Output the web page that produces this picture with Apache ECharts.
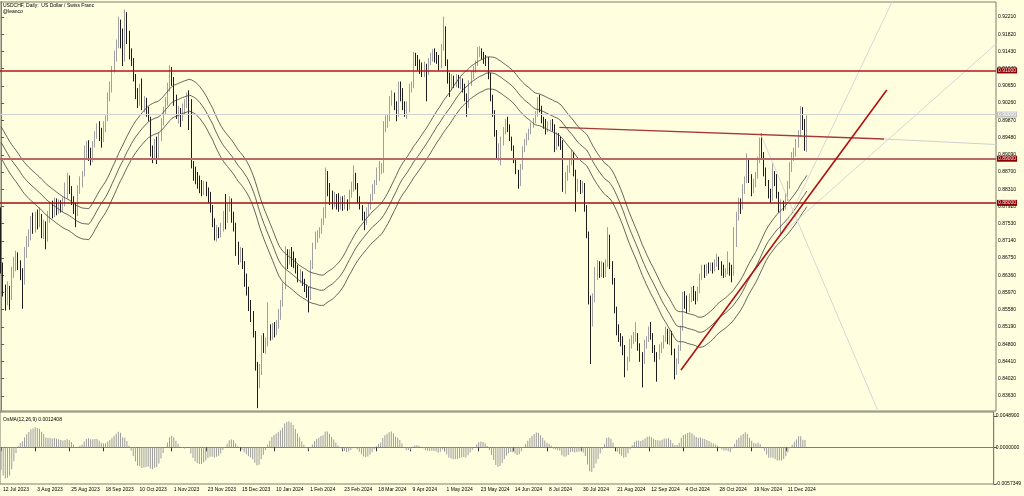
<!DOCTYPE html>
<html><head><meta charset="utf-8">
<script src="https://cdn.jsdelivr.net/npm/echarts@6/dist/echarts.min.js"></script>
<style>html,body{margin:0;padding:0;background:#FFFFE0;}#c{width:1024px;height:496px;}</style>
</head><body><div id="c"></div>
<script>
// ---- data ----
const tickLabels = ['12 Jul 2023','3 Aug 2023','25 Aug 2023','18 Sep 2023','10 Oct 2023','1 Nov 2023','23 Nov 2023','15 Dec 2023','10 Jan 2024','1 Feb 2024','23 Feb 2024','18 Mar 2024','9 Apr 2024','1 May 2024','23 May 2024','14 Jun 2024','8 Jul 2024','30 Jul 2024','21 Aug 2024','12 Sep 2024','4 Oct 2024','28 Oct 2024','19 Nov 2024','11 Dec 2024'];
const barsPerLabel = 16;
const yTicks = [0.92210,0.91820,0.91430,0.91040,0.90650,0.90260,0.89870,0.89480,0.89090,0.88700,0.88310,0.87920,0.87530,0.87140,0.86750,0.86360,0.85970,0.85580,0.85190,0.84800,0.84410,0.84020,0.83630];
const priceRange = [0.83286, 0.92550];
const levels = [0.91100, 0.88909, 0.88304];
const oscTicks = [0.0048900, 0, -0.0057349];
const oscRange = [-0.0057349, 0.005517];
const slots = 466;
// daily candles [open, close, low, high]
const ohlc = [
[.8765,.8650,.8640,.8790],[.8650,.8600,.8588,.8665],[.8600,.8580,.8556,.8615],[.8580,.8600,.8568,.8622],
[.8600,.8590,.8558,.8612],[.8590,.8640,.8580,.8655],[.8640,.8665,.8630,.8678],[.8665,.8680,.8645,.8692],
[.8680,.8660,.8648,.8688],[.8660,.8640,.8625,.8670],[.8640,.8630,.8560,.8652],[.8630,.8690,.8615,.8700],
[.8690,.8712,.8675,.8725],[.8712,.8725,.8700,.8740],[.8725,.8760,.8715,.8770],[.8760,.8745,.8730,.8778],
[.8745,.8770,.8733,.8780],[.8770,.8755,.8740,.8785],[.8755,.8770,.8745,.8790],[.8770,.8735,.8720,.8775],
[.8735,.8750,.8718,.8762],[.8750,.8720,.8695,.8758],[.8720,.8770,.8712,.8782],[.8770,.8790,.8755,.8802],
[.8790,.8775,.8765,.8805],[.8775,.8800,.8768,.8812],[.8800,.8785,.8772,.8810],[.8785,.8795,.8775,.8808],
[.8795,.8790,.8778,.8806],[.8790,.8800,.8780,.8812],[.8800,.8835,.8792,.8846],[.8835,.8855,.8810,.8868],
[.8855,.8830,.8820,.8862],[.8830,.8805,.8795,.8838],[.8805,.8790,.8775,.8815],[.8790,.8780,.8745,.8800],
[.8780,.8830,.8770,.8840],[.8830,.8850,.8820,.8860],[.8850,.8865,.8835,.8872],[.8865,.8915,.8860,.8930],
[.8915,.8930,.8900,.8940],[.8930,.8912,.8895,.8942],[.8912,.8900,.8885,.8925],[.8900,.8930,.8892,.8940],
[.8930,.8955,.8925,.8962],[.8955,.8970,.8945,.8980],[.8970,.8950,.8940,.8985],[.8950,.8945,.8925,.8970],
[.8945,.8975,.8938,.8985],[.8975,.8990,.8960,.8998],[.8990,.9040,.8985,.9050],[.9040,.9060,.9030,.9075],
[.9060,.9100,.9050,.9110],[.9100,.9130,.9095,.9145],[.9130,.9160,.9120,.9170],[.9160,.9200,.9150,.9222],
[.9200,.9180,.9150,.9215],[.9180,.9125,.9110,.9195],[.9125,.9215,.9120,.9238],[.9215,.9175,.9160,.9232],
[.9175,.9140,.9125,.9190],[.9140,.9120,.9110,.9150],[.9120,.9085,.9075,.9128],[.9085,.9045,.9035,.9092],
[.9045,.9030,.9015,.9060],[.9030,.9060,.9020,.9070],[.9060,.9020,.9010,.9082],[.9020,.9030,.9005,.9042],
[.9030,.9010,.8995,.9038],[.9010,.8990,.8985,.9018],[.8990,.8920,.8905,.8995],[.8920,.8910,.8890,.8930],
[.8910,.8935,.8900,.8945],[.8935,.8905,.8888,.8950],[.8905,.8950,.8898,.8960],[.8950,.8985,.8940,.8992],
[.8985,.9010,.8975,.9018],[.9010,.9030,.9000,.9040],[.9030,.9060,.9020,.9072],[.9060,.9100,.9052,.9112],
[.9100,.9075,.9065,.9108],[.9075,.9035,.9020,.9085],[.9035,.9000,.8990,.9045],[.9000,.9005,.8980,.9020],
[.9005,.8990,.8972,.9015],[.8990,.9015,.8985,.9025],[.9015,.9025,.9000,.9035],[.9025,.9040,.9015,.9050],
[.9040,.9030,.8965,.9055],[.9030,.8885,.8878,.9035],[.8885,.8870,.8850,.8895],[.8870,.8860,.8842,.8882],
[.8860,.8850,.8832,.8870],[.8850,.8840,.8822,.8862],[.8840,.8830,.8815,.8852],[.8830,.8840,.8818,.8850],
[.8840,.8825,.8815,.8848],[.8825,.8815,.8800,.8835],[.8815,.8790,.8778,.8825],[.8790,.8755,.8745,.8795],
[.8755,.8725,.8715,.8765],[.8725,.8735,.8712,.8750],[.8735,.8730,.8720,.8745],[.8730,.8745,.8722,.8755],
[.8745,.8770,.8735,.8782],[.8770,.8760,.8740,.8820],[.8760,.8790,.8755,.8800],[.8790,.8805,.8780,.8815],
[.8805,.8770,.8755,.8810],[.8770,.8745,.8735,.8780],[.8745,.8690,.8680,.8755],[.8690,.8680,.8660,.8712],
[.8680,.8690,.8665,.8700],[.8690,.8660,.8650,.8698],[.8660,.8630,.8610,.8668],[.8630,.8600,.8590,.8640],
[.8600,.8570,.8555,.8610],[.8570,.8545,.8530,.8580],[.8545,.8505,.8495,.8555],[.8505,.8430,.8420,.8510],
[.8430,.8395,.8335,.8440],[.8395,.8415,.8380,.8435],[.8415,.8490,.8410,.8500],[.8490,.8475,.8460,.8505],
[.8475,.8485,.8458,.8495],[.8485,.8510,.8475,.8575],[.8510,.8495,.8488,.8525],[.8495,.8515,.8490,.8528],
[.8515,.8505,.8495,.8530],[.8505,.8520,.8500,.8535],[.8520,.8545,.8515,.8560],[.8545,.8570,.8535,.8580],
[.8570,.8610,.8565,.8620],[.8610,.8680,.8605,.8702],[.8680,.8670,.8650,.8695],[.8670,.8685,.8660,.8695],
[.8685,.8675,.8655,.8700],[.8675,.8665,.8652,.8690],[.8665,.8650,.8640,.8675],[.8650,.8630,.8620,.8660],
[.8630,.8640,.8618,.8650],[.8640,.8620,.8612,.8645],[.8620,.8610,.8598,.8628],[.8610,.8600,.8585,.8615],
[.8600,.8590,.8552,.8610],[.8590,.8660,.8580,.8670],[.8660,.8700,.8650,.8710],[.8700,.8720,.8695,.8735],
[.8720,.8725,.8710,.8738],[.8725,.8735,.8720,.8745],[.8735,.8755,.8730,.8765],[.8755,.8770,.8750,.8790],
[.8770,.8860,.8765,.8880],[.8860,.8835,.8815,.8872],[.8835,.8810,.8795,.8845],[.8810,.8795,.8785,.8828],
[.8795,.8810,.8790,.8825],[.8810,.8800,.8785,.8820],[.8800,.8790,.8780,.8822],[.8790,.8805,.8785,.8815],
[.8805,.8795,.8782,.8815],[.8795,.8800,.8785,.8818],[.8800,.8790,.8782,.8808],[.8790,.8820,.8785,.8830],
[.8820,.8840,.8812,.8848],[.8840,.8860,.8825,.8885],[.8860,.8840,.8830,.8868],[.8840,.8810,.8800,.8845],
[.8810,.8790,.8785,.8815],[.8790,.8765,.8760,.8795],[.8765,.8755,.8738,.8780],[.8755,.8775,.8750,.8790],
[.8775,.8790,.8770,.8800],[.8790,.8810,.8785,.8820],[.8810,.8830,.8805,.8842],[.8830,.8845,.8820,.8852],
[.8845,.8865,.8840,.8880],[.8865,.8875,.8850,.8895],[.8875,.8880,.8865,.8890],[.8880,.8970,.8868,.8985],
[.8970,.8985,.8960,.8998],[.8985,.8990,.8970,.9000],[.8990,.9030,.8985,.9042],[.9030,.9045,.9020,.9055],
[.9045,.9025,.9010,.9050],[.9025,.9000,.8985,.9030],[.9000,.9060,.8995,.9075],[.9060,.9050,.9030,.9075],
[.9050,.9020,.9010,.9060],[.9020,.9005,.8995,.9030],[.9005,.9010,.8990,.9030],[.9010,.9060,.9005,.9070],
[.9060,.9065,.9050,.9075],[.9065,.9130,.9060,.9142],[.9130,.9120,.9110,.9140],[.9120,.9115,.9100,.9135],
[.9115,.9105,.9092,.9125],[.9105,.9095,.9085,.9118],[.9095,.9110,.9085,.9120],[.9110,.9095,.9030,.9115],
[.9095,.9120,.9090,.9128],[.9120,.9130,.9112,.9140],[.9130,.9140,.9120,.9148],[.9140,.9130,.9118,.9150],
[.9130,.9125,.9115,.9142],[.9125,.9110,.9100,.9135],[.9110,.9150,.9105,.9160],[.9150,.9190,.9145,.9222],
[.9190,.9120,.9110,.9200],[.9120,.9085,.9070,.9125],[.9085,.9060,.9040,.9095],[.9060,.9080,.9055,.9092],
[.9080,.9070,.9060,.9088],[.9070,.9080,.9062,.9092],[.9080,.9070,.9060,.9090],[.9070,.9075,.9058,.9085],
[.9075,.9060,.9050,.9082],[.9060,.9040,.9030,.9070],[.9040,.9020,.8995,.9048],[.9020,.9070,.9015,.9078],
[.9070,.9090,.9065,.9098],[.9090,.9100,.9080,.9110],[.9100,.9115,.9095,.9122],[.9115,.9140,.9110,.9153],
[.9140,.9145,.9130,.9155],[.9145,.9135,.9125,.9150],[.9135,.9125,.9115,.9142],[.9125,.9120,.9110,.9135],
[.9120,.9090,.9080,.9130],[.9090,.9040,.9030,.9095],[.9040,.9005,.8995,.9045],[.9005,.8960,.8950,.9010],
[.8960,.8910,.8900,.8965],[.8910,.8920,.8895,.8935],[.8920,.8940,.8885,.8950],[.8940,.8965,.8930,.8972],
[.8965,.8980,.8955,.8990],[.8980,.8970,.8960,.8995],[.8970,.8945,.8940,.8978],[.8945,.8925,.8918,.8950],
[.8925,.8895,.8890,.8930],[.8895,.8870,.8865,.8900],[.8870,.8845,.8832,.8875],[.8845,.8880,.8838,.8888],
[.8880,.8920,.8875,.8928],[.8920,.8935,.8915,.8945],[.8935,.8950,.8930,.8958],[.8950,.8960,.8942,.8968],
[.8960,.8975,.8955,.8982],[.8975,.8985,.8970,.8992],[.8985,.9000,.8980,.9008],[.9000,.9030,.8995,.9040],
[.9030,.9015,.9005,.9045],[.9015,.8990,.8980,.9020],[.8990,.8980,.8968,.8995],[.8980,.8970,.8955,.8990],
[.8970,.8975,.8960,.8985],[.8975,.8980,.8965,.8988],[.8980,.8970,.8962,.8990],[.8970,.8925,.8915,.8978],
[.8925,.8950,.8920,.8960],[.8950,.8940,.8928,.8958],[.8940,.8930,.8920,.8950],[.8930,.8835,.8825,.8942],
[.8835,.8860,.8820,.8870],[.8860,.8875,.8850,.8885],[.8875,.8890,.8868,.8900],[.8890,.8910,.8885,.8920],
[.8910,.8870,.8860,.8915],[.8870,.8835,.8780,.8875],[.8835,.8845,.8825,.8855],[.8845,.8830,.8820,.8852],
[.8830,.8840,.8822,.8850],[.8840,.8790,.8780,.8845],[.8790,.8730,.8720,.8795],[.8730,.8580,.8570,.8735],
[.8580,.8530,.8435,.8590],[.8530,.8580,.8520,.8595],[.8580,.8640,.8575,.8655],[.8640,.8650,.8625,.8670],
[.8650,.8640,.8630,.8668],[.8640,.8655,.8632,.8668],[.8655,.8640,.8630,.8665],[.8640,.8660,.8632,.8672],
[.8660,.8720,.8655,.8745],[.8720,.8660,.8650,.8728],[.8660,.8625,.8615,.8668],[.8625,.8560,.8550,.8630],
[.8560,.8510,.8500,.8565],[.8510,.8495,.8485,.8525],[.8495,.8490,.8475,.8505],[.8490,.8470,.8455,.8498],
[.8470,.8430,.8405,.8478],[.8430,.8445,.8420,.8452],[.8445,.8480,.8440,.8492],[.8480,.8490,.8470,.8500],
[.8490,.8495,.8480,.8508],[.8495,.8500,.8485,.8530],[.8500,.8475,.8465,.8505],[.8475,.8455,.8440,.8482],
[.8455,.8440,.8382,.8462],[.8440,.8480,.8435,.8490],[.8480,.8490,.8470,.8498],[.8490,.8510,.8485,.8520],
[.8510,.8500,.8490,.8530],[.8500,.8470,.8460,.8505],[.8470,.8455,.8440,.8478],[.8455,.8450,.8395,.8462],
[.8450,.8470,.8445,.8480],[.8470,.8475,.8460,.8485],[.8475,.8495,.8470,.8500],[.8495,.8510,.8485,.8520],
[.8510,.8490,.8480,.8515],[.8490,.8505,.8478,.8512],[.8505,.8465,.8455,.8510],[.8465,.8420,.8400,.8470],
[.8420,.8440,.8410,.8448],[.8440,.8470,.8435,.8478],[.8470,.8515,.8465,.8522],[.8515,.8590,.8510,.8598],
[.8590,.8580,.8560,.8600],[.8580,.8560,.8550,.8590],[.8560,.8585,.8553,.8595],[.8585,.8600,.8575,.8610],
[.8600,.8590,.8578,.8612],[.8590,.8585,.8570,.8600],[.8585,.8600,.8577,.8610],[.8600,.8630,.8595,.8640],
[.8630,.8650,.8625,.8660],[.8650,.8640,.8630,.8660],[.8640,.8655,.8635,.8662],[.8655,.8650,.8640,.8665],
[.8650,.8660,.8645,.8665],[.8660,.8650,.8640,.8665],[.8650,.8665,.8645,.8672],[.8665,.8670,.8655,.8685],
[.8670,.8660,.8648,.8678],[.8660,.8650,.8635,.8668],[.8650,.8640,.8630,.8660],[.8640,.8645,.8632,.8652],
[.8645,.8660,.8638,.8690],[.8660,.8645,.8635,.8665],[.8645,.8635,.8620,.8660],[.8640,.8730,.8635,.8745],
[.8730,.8770,.8700,.8780],[.8770,.8800,.8760,.8812],[.8800,.8790,.8775,.8810],[.8790,.8830,.8785,.8842],
[.8830,.8850,.8820,.8860],[.8850,.8890,.8845,.8912],[.8890,.8855,.8845,.8900],[.8855,.8830,.8815,.8865],
[.8830,.8845,.8822,.8855],[.8845,.8860,.8835,.8870],[.8860,.8895,.8855,.8905],[.8895,.8940,.8890,.8948],
[.8940,.8905,.8898,.8957],[.8905,.8870,.8860,.8915],[.8870,.8845,.8838,.8880],[.8845,.8820,.8810,.8852],
[.8820,.8810,.8800,.8832],[.8810,.8862,.8805,.8890],[.8862,.8850,.8838,.8872],[.8850,.8820,.8810,.8865],
[.8820,.8790,.8778,.8825],[.8790,.8800,.8732,.8808],[.8800,.8790,.8782,.8805],[.8790,.8810,.8785,.8822],
[.8810,.8840,.8805,.8850],[.8840,.8880,.8832,.8892],[.8880,.8905,.8870,.8915],[.8905,.8915,.8895,.8925],
[.8915,.8935,.8905,.8945],[.8935,.8955,.8925,.8965],[.8955,.9005,.8950,.9019],[.9005,.8980,.8965,.9017],
[.8980,.8930,.8918,.8990],[.8930,.8993,.8915,.8998]
];
// indicator settings: SMA(42) of close with a 0.4% envelope; seed = price level before the first bar
const maPeriod = 42;
const maSeed = 0.8944;
const envDev = 0.004;
// OsMA(12,26,9) seeds: ema12, ema26, prior macd
const osmaSeed = [0.8880, 0.8930, -0.0025];
// drawn objects [bar index, price]
const trendUp = [[318.1, 0.84214], [414.4, 0.90557]];
const trendFlat = [[261.2, 0.89712], [413.1, 0.89447]];
const trendFlatExt = [[413.1, 0.89447], [465.5, 0.89322]];
const fanA = [[365.1, 0.87295], [417.3, 0.92595]];
const fanB = [[365.1, 0.87295], [465.5, 0.91598]];
const fanC = [[355.1, 0.89583], [410.3, 0.83286]];

// ---- build ----
const FONT = "'Liberation Sans', Arial, sans-serif";
const N = ohlc.length;
const cats = Array.from({length: slots}, (_, i) => String(i));
const closes = ohlc.map(d => d[1]);
function sma(src, period, seed) {
  return src.map((_, i) => { let s = 0; for (let k = i - period + 1; k <= i; k++) s += k >= 0 ? src[k] : seed; return s / period; });
}
const maMid = sma(closes, maPeriod, maSeed);
const maUp = maMid.map(v => v * (1 + envDev));
const maDn = maMid.map(v => v * (1 - envDev));
let e12 = osmaSeed[0], e26 = osmaSeed[1];
const macd = closes.map(c => { e12 += (2/13)*(c - e12); e26 += (2/27)*(c - e26); return e12 - e26; });
const osma = macd.map((m, i) => { let s = 0; for (let k = i - 8; k <= i; k++) s += k >= 0 ? macd[k] : osmaSeed[2]; return m - s / 9; });
const lastClose = closes[N - 1];
const isTick = (idx) => idx % barsPerLabel === 0 && idx / barsPerLabel < tickLabels.length;

const levelColors = ['#b01818', '#b86a6a', '#a01010'];
const levelWidths = [1.5, 2.2, 1.5];
const markData = levels.map((v, k) => ({
  yAxis: v,
  lineStyle: {color: levelColors[k], width: levelWidths[k], type: 'solid'},
  label: {show: true, position: 'end', distance: 1, formatter: p => Number(p.value).toFixed(5),
    fontSize: 5, fontFamily: FONT, color: '#ffe8e8', backgroundColor: '#8b0000', padding: [1, 1, 0, 1]}
}));
markData.unshift({
  yAxis: lastClose,
  lineStyle: {color: '#cfcfcf', width: 1, type: 'solid'},
  label: {show: true, position: 'end', distance: 1, formatter: p => Number(p.value).toFixed(5),
    fontSize: 5, fontFamily: FONT, color: '#ffffff', backgroundColor: '#c4c4c4', padding: [1, 1, 0, 1]}
});

function seg(data, color, width, z) {
  return {type: 'line', xAxisIndex: 1, yAxisIndex: 0, data: data, symbol: 'none', silent: true,
    lineStyle: {color: color, width: width}, z: z, clip: true, animation: false};
}
function maLine(data) {
  return {type: 'line', xAxisIndex: 0, yAxisIndex: 0, data: data, symbol: 'none', silent: true,
    lineStyle: {color: '#3c3c3c', width: 0.8}, z: 3, animation: false};
}

const chart = echarts.init(document.getElementById('c'), null, {renderer: 'canvas'});
chart.setOption({
  animation: false,
  backgroundColor: '#FFFFE0',
  title: [
    {text: 'USDCHF, Daily:  US Dollar / Swiss Franc', left: 3, top: 3, padding: 0, textStyle: {fontSize: 5, fontWeight: 'normal', color: '#000', fontFamily: FONT}},
    {text: '@leanco', left: 3, top: 9, padding: 0, textStyle: {fontSize: 5, fontWeight: 'normal', color: '#000', fontFamily: FONT}},
    {text: 'OsMA(12,26,9) 0.0012408', left: 3, top: 417, padding: 0, textStyle: {fontSize: 5, fontWeight: 'normal', color: '#000', fontFamily: FONT}}
  ],
  grid: [
    {left: 0, right: 28, top: 2, height: 409, show: true, borderColor: '#7f7f70', borderWidth: 1, backgroundColor: 'transparent'},
    {left: 0, right: 28, top: 412, height: 72, show: true, borderColor: '#7f7f70', borderWidth: 1, backgroundColor: 'transparent'}
  ],
  xAxis: [
    {type: 'category', gridIndex: 0, data: cats, boundaryGap: true, show: false},
    {type: 'value', gridIndex: 0, min: -0.5, max: slots - 0.5, show: false},
    {type: 'category', gridIndex: 1, data: cats, boundaryGap: true,
      axisLine: {show: true, lineStyle: {color: '#7f7f70'}},
      axisTick: {show: true, alignWithLabel: true, interval: (i) => isTick(i), length: 4, lineStyle: {color: '#333'}},
      axisLabel: {interval: (i) => isTick(i), formatter: (v) => tickLabels[Number(v) / barsPerLabel] || '',
        fontSize: 5, fontFamily: FONT, color: '#000', align: 'left', margin: 3, padding: [0, 0, 0, 2]},
      splitLine: {show: false}}
  ],
  yAxis: [
    {type: 'value', gridIndex: 0, position: 'right', min: priceRange[0], max: priceRange[1], scale: true,
      splitLine: {show: false},
      axisLine: {show: true, lineStyle: {color: '#7f7f70'}},
      axisTick: {show: true, customValues: yTicks, length: 3, lineStyle: {color: '#555'}},
      axisLabel: {customValues: yTicks, formatter: v => v.toFixed(5), fontSize: 5, fontFamily: FONT, color: '#000', margin: 2}},
    {type: 'value', gridIndex: 1, position: 'right', min: oscRange[0], max: oscRange[1],
      splitLine: {show: false},
      axisLine: {show: true, lineStyle: {color: '#7f7f70'}},
      axisTick: {show: true, customValues: oscTicks, length: 3, lineStyle: {color: '#555'}},
      axisLabel: {customValues: oscTicks, formatter: v => v.toFixed(7), fontSize: 5, fontFamily: FONT, color: '#000', margin: 2}}
  ],
  series: [
    {type: 'candlestick', xAxisIndex: 0, yAxisIndex: 0, data: ohlc, barWidth: 1, silent: true, z: 2,
      itemStyle: {color: '#b0b0b0', color0: '#1e1e1e', borderColor: '#a0a0a0', borderColor0: '#1e1e1e', borderWidth: 1},
      markLine: {symbol: ['none', 'none'], silent: true, animation: false, data: markData}},
    maLine(maUp), maLine(maMid), maLine(maDn),
    seg(fanA, '#d6d6d6', 1, 4), seg(fanB, '#d6d6d6', 1, 4), seg(fanC, '#d6d6d6', 1, 4),
    seg(trendFlatExt, '#d0d0d0', 1, 4),
    seg(trendFlat, '#a83838', 1.3, 5),
    seg(trendUp, '#b01010', 1.6, 5),
    {type: 'bar', xAxisIndex: 2, yAxisIndex: 1, data: osma, barWidth: 1, silent: true,
      itemStyle: {color: '#9c9c9c'}, animation: false}
  ]
});
</script></body></html>
